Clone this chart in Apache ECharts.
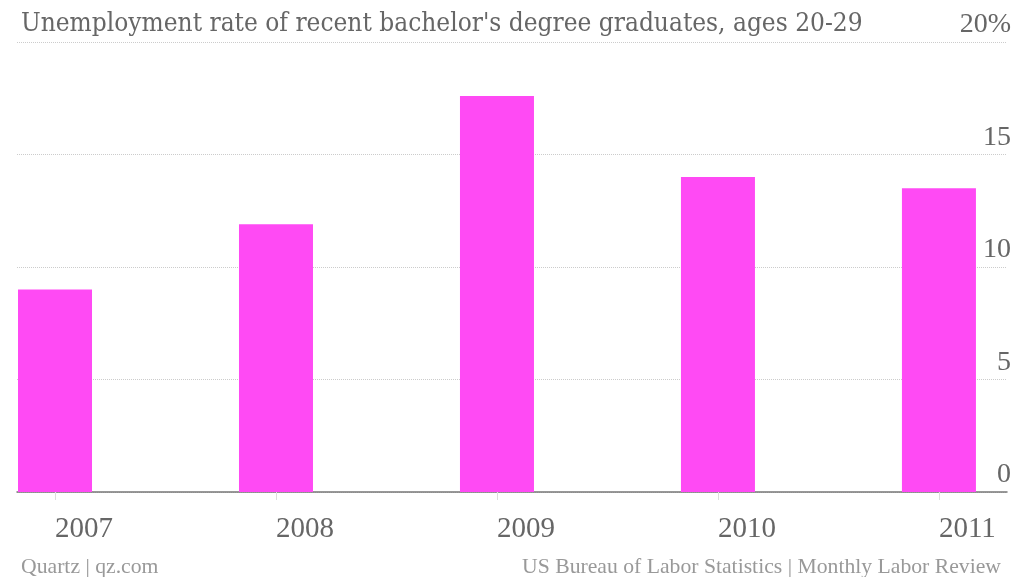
<!DOCTYPE html>
<html><head><meta charset="utf-8">
<script src="https://cdn.jsdelivr.net/npm/echarts@6/dist/echarts.min.js"></script>
<style>html,body{margin:0;padding:0;background:#fff}#c{width:1024px;height:577px}</style>
</head><body><div id="c"></div>
<script>
const years = ['2007', '2008', '2009', '2010', '2011'];
const rates = [9.0, 11.9, 17.6, 14.0, 13.5];
const yTicks = [0, 5, 10, 15, 20];
const titleText = "Unemployment rate of recent bachelor's degree graduates, ages 20-29";
const sourceLeft = 'Quartz | qz.com';
const sourceRight = 'US Bureau of Labor Statistics | Monthly Labor Review';

const idx = years.map((_, i) => i);
const F = '"Liberation Serif", serif';
const FT = '"DejaVu Serif Condensed", "DejaVu Serif", serif';
const chart = echarts.init(document.getElementById('c'), null, {renderer: 'canvas'});
chart.setOption({
  animation: false,
  backgroundColor: '#fff',
  title: [
    {text: titleText, left: 16, top: 6, textStyle: {fontFamily: FT, fontSize: 26, fontWeight: 'normal', color: '#666'}},
    {text: sourceLeft, left: 16, top: 551, textStyle: {fontFamily: F, fontSize: 21.7, fontWeight: 'normal', color: '#999'}},
    {text: sourceRight, right: 18, top: 551, textStyle: {fontFamily: F, fontSize: 21.7, fontWeight: 'normal', color: '#999'}}
  ],
  grid: {left: 17, right: 17, top: 42, bottom: 85, containLabel: false},
  xAxis: [
    {
      type: 'value', min: -0.172, max: 4.308, position: 'bottom', offset: 13,
      axisLine: {show: false},
      splitLine: {show: false},
      axisTick: {show: true, customValues: idx, length: 8, lineStyle: {color: '#ddd'}},
      axisLabel: {customValues: idx, formatter: v => years[Math.round(v)], align: 'left', margin: 10,
        fontFamily: F, fontSize: 29, color: '#666'}
    },
    {
      type: 'value', min: -0.172, max: 4.308, position: 'bottom', offset: 0,
      axisLine: {show: true, lineStyle: {color: '#777', width: 1.5}},
      axisTick: {show: false}, axisLabel: {show: false}, splitLine: {show: false}
    }
  ],
  yAxis: {
    type: 'value', position: 'right', min: 0, max: 20, interval: 5,
    axisLine: {show: false}, axisTick: {show: false},
    splitLine: {show: true, lineStyle: {color: '#ccc', type: [1, 1], width: 1}},
    axisLabel: {inside: true, margin: -4, verticalAlign: 'bottom', padding: [0, 0, 3, 0],
      fontFamily: F, fontSize: 28, color: '#666',
      formatter: v => (v === yTicks[yTicks.length - 1] ? v + '%' : String(v))}
  },
  series: [{
    type: 'bar', xAxisIndex: 0, barWidth: 74,
    itemStyle: {color: '#ff4af4'},
    data: rates.map((r, i) => [i, r])
  }]
});
</script></body></html>
